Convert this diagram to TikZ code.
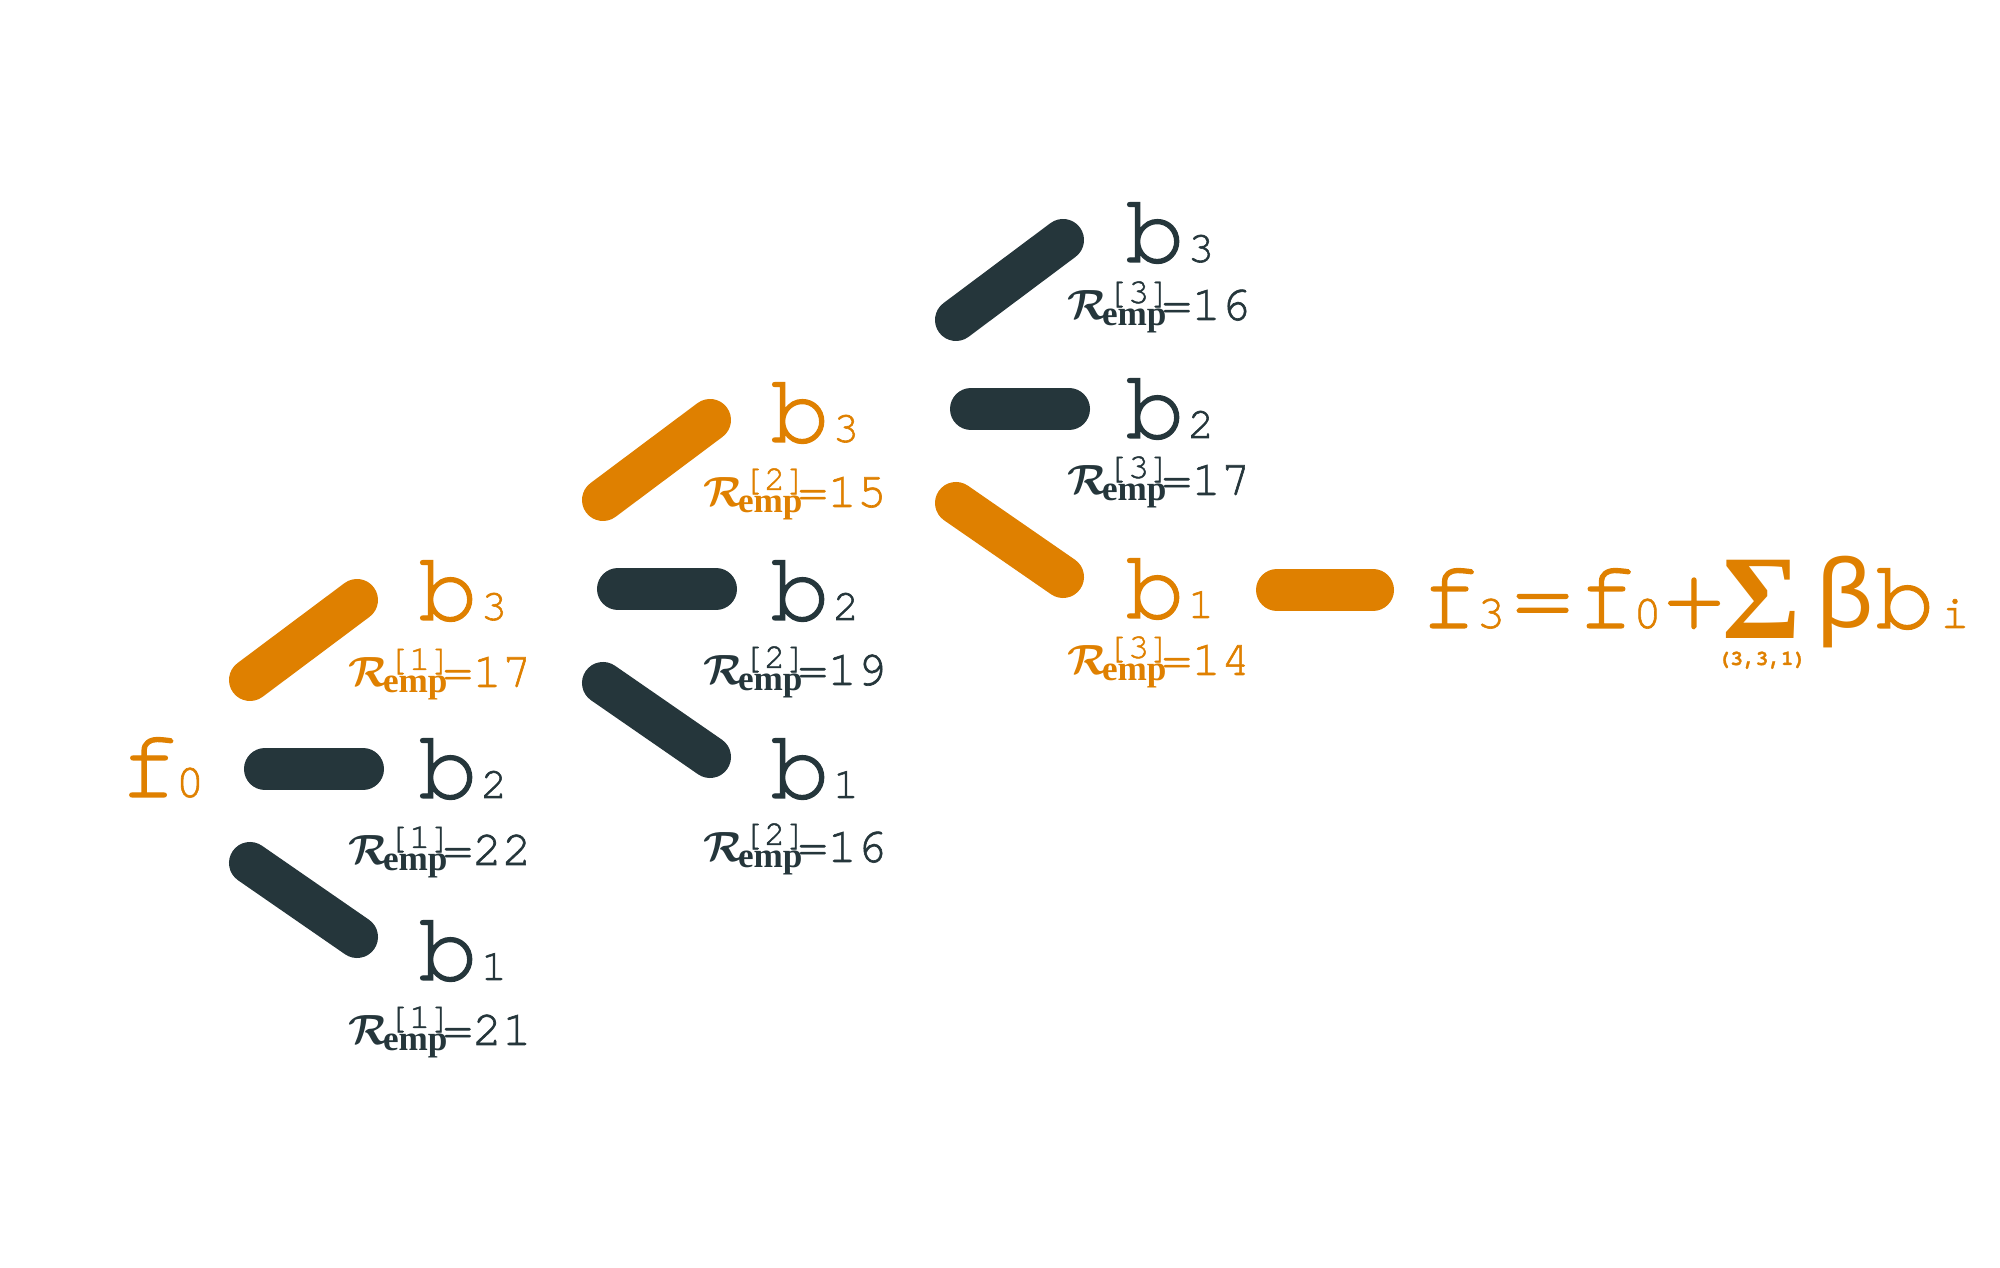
\documentclass[tikz,border=0pt]{standalone}
\usepackage{amsmath}
\usepackage{bm}
\usepackage{fontspec}
\setmonofont[FakeBold=1.3]{TeX Gyre Cursor}
\newfontfamily\greekmono{Liberation Mono}
\newfontfamily\timesbold{Liberation Serif}
\definecolor{orng}{HTML}{DF8000}
\definecolor{drk}{HTML}{25363B}
\newlength\pxu
\setlength\pxu{0.01cm}
\newcommand\bigtt[1]{{\fontsize{28}{30}\selectfont\ttfamily #1}}
\newcommand\smtt[1]{{\fontsize{12.5}{14}\selectfont\ttfamily #1}}
\newcommand\midtt[1]{{\fontsize{13.5}{15}\selectfont\ttfamily #1}}
\newcommand\zb[1]{\makebox[0pt]{#1}}
\newcommand\blab[1]{\hbox{\kern25\pxu\zb{\bigtt{b}}\kern46\pxu\zb{\smtt{#1}}\kern11\pxu}}
\newcommand\rlab[2]{\hbox{%
  \rlap{\fontsize{12.5}{14}\selectfont$\bm{\mathcal{R}}$}%
  \rlap{\kern40\pxu\raisebox{17\pxu}{\fontsize{10}{12}\selectfont\ttfamily[#1]}}%
  \rlap{\kern35\pxu\raisebox{-6\pxu}{\fontsize{10}{12}\selectfont\timesbold\bfseries emp}}%
  \kern95\pxu{\fontsize{14}{16}\selectfont\ttfamily=#2}}}
\begin{document}
\begin{tikzpicture}[x=0.01cm,y=-0.01cm,
  bar/.style={line width=0.42cm, line cap=round},
  lab/.style={anchor=base west, inner sep=0, outer sep=0}]
\useasboundingbox (0,0) rectangle (2000,1268);
\foreach \c/\dx/\dy in {1/0/0,2/353/-180,3/706/-360}{
  \coordinate (u\c a) at (250+\dx,680+\dy);
  \coordinate (u\c b) at (357+\dx,600+\dy);
  \coordinate (h\c a) at (265+\dx,769+\dy);
  \coordinate (h\c b) at (363+\dx,769+\dy);
  \coordinate (d\c a) at (250+\dx,863+\dy);
  \coordinate (d\c b) at (357+\dx,937+\dy);
}
\coordinate (fa) at (1277,590);
\coordinate (fb) at (1373,590);
% bars
\draw[bar, orng] (u1a) -- (u1b);
\draw[bar, drk] (h1a) -- (h1b);
\draw[bar, drk] (d1a) -- (d1b);
\draw[bar, orng] (u2a) -- (u2b);
\draw[bar, drk] (h2a) -- (h2b);
\draw[bar, drk] (d2a) -- (d2b);
\draw[bar, drk] (u3a) -- (u3b);
\draw[bar, drk] (h3a) -- (h3b);
\draw[bar, orng] (d3a) -- (d3b);
\draw[bar, orng] (fa) -- (fb);
% labels
\node[lab, text=orng] (f0) at (126,797) {\hbox{\kern23\pxu\zb{\bigtt{f}}\kern41\pxu\zb{\midtt{0}}\kern12\pxu}};
\node[lab, text=orng] (c1b3) at (423,620) {\blab{3}};
\node[lab, text=orng] (c1r3) at (348,687) {\rlab{1}{17}};
\node[lab, text=drk] (c1b2) at (423,798) {\blab{2}};
\node[lab, text=drk] (c1r2) at (348,865) {\rlab{1}{22}};
\node[lab, text=drk] (c1b1) at (423,980) {\blab{1}};
\node[lab, text=drk] (c1r1) at (348,1045) {\rlab{1}{21}};
\node[lab, text=orng] (c2b3) at (775,442) {\blab{3}};
\node[lab, text=orng] (c2r3) at (703,507) {\rlab{2}{15}};
\node[lab, text=drk] (c2b2) at (775,620) {\blab{2}};
\node[lab, text=drk] (c2r2) at (703,685) {\rlab{2}{19}};
\node[lab, text=drk] (c2b1) at (775,798) {\blab{1}};
\node[lab, text=drk] (c2r1) at (703,862) {\rlab{2}{16}};
\node[lab, text=drk] (c3b3) at (1130,262) {\blab{3}};
\node[lab, text=drk] (c3r3) at (1067,320) {\rlab{3}{16}};
\node[lab, text=drk] (c3b2) at (1130,438) {\blab{2}};
\node[lab, text=drk] (c3r2) at (1067,495) {\rlab{3}{17}};
\node[lab, text=orng] (c3b1) at (1130,618) {\blab{1}};
\node[lab, text=orng] (c3r1) at (1067,675) {\rlab{3}{14}};
\node[lab, text=orng] (f3) at (1425,628) {\hbox{%
  \kern24.5\pxu\zb{\bigtt{f}}%
  \kern41.5\pxu\zb{\midtt{3}}%
  \kern51.5\pxu\zb{\bigtt{=}}%
  \kern64\pxu\zb{\bigtt{f}}%
  \kern41\pxu\zb{\midtt{0}}%
  \kern46.5\pxu\zb{\bigtt{+}}%
  \kern68\pxu\zb{\raisebox{-11\pxu}{\fontsize{34}{36}\selectfont\timesbold\bfseries Σ}}%
    \zb{\raisebox{-37\pxu}{\fontsize{6}{7}\selectfont\ttfamily\bfseries (3,3,1)}}%
  \kern83\pxu\zb{{\fontsize{28}{30}\selectfont\greekmono β}}%
  \kern60\pxu\zb{\bigtt{b}}%
  \kern50\pxu\zb{\midtt{i}}%
  \kern12\pxu}};
\end{tikzpicture}
\end{document}
